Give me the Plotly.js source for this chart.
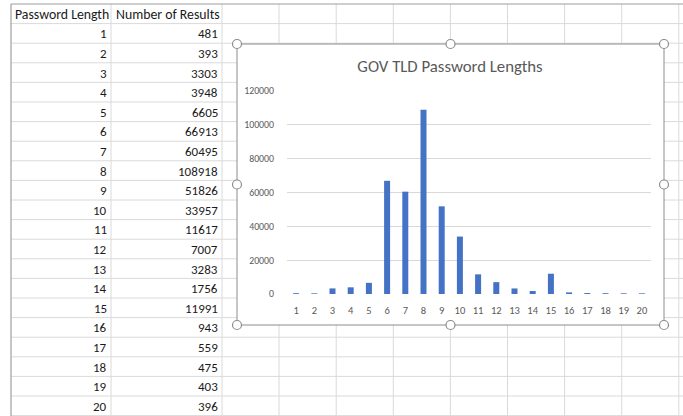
<!DOCTYPE html>
<html><head><meta charset="utf-8">
<script src="https://cdn.plot.ly/plotly-3.0.1.min.js"></script>
<style>html,body{margin:0;padding:0;background:#fff;}#chart{width:683px;height:416px;}</style>
</head><body><div id="chart"></div>
<script>
const lengths = [1,2,3,4,5,6,7,8,9,10,11,12,13,14,15,16,17,18,19,20];
const results = [481,393,3303,3948,6605,66913,60495,108918,51826,33957,11617,7007,3283,1756,11991,943,559,475,403,396];
const headerA = "Password Length";
const headerB = "Number of Results";
const chartTitle = "GOV TLD Password Lengths";
const yTicks = [0,20000,40000,60000,80000,100000,120000];

const W = 683, H = 416;
const X = p => p / W;
const Y = p => 1 - p / H;
const FONT = "Carlito, Calibri, Lato, sans-serif";

const shapes = [];
const annotations = [];
const rowTop = 4, rowH = 19.6;
const colLines = [111, 222, 279, 336.2, 393.3, 450.4, 507.5, 564.6, 621.7, 678.8];
for (let k = 1; k <= 21; k++) {
  const y = rowTop + rowH * k;
  shapes.push({type:'line', xref:'paper', yref:'paper', x0:X(11), x1:X(683), y0:Y(y), y1:Y(y), line:{color:'#dadada', width:1}, layer:'below'});
}
colLines.forEach(c => shapes.push({type:'line', xref:'paper', yref:'paper', x0:X(c), x1:X(c), y0:Y(4), y1:Y(416), line:{color:'#dadada', width:1}, layer:'below'}));
shapes.push({type:'line', xref:'paper', yref:'paper', x0:X(11), x1:X(683), y0:Y(4), y1:Y(4), line:{color:'#9e9e9e', width:1.2}, layer:'below'});
shapes.push({type:'line', xref:'paper', yref:'paper', x0:X(11), x1:X(11), y0:Y(4), y1:Y(416), line:{color:'#9e9e9e', width:1.2}, layer:'below'});
shapes.push({type:'rect', xref:'paper', yref:'paper', x0:X(237), x1:X(664), y0:Y(44), y1:Y(325), fillcolor:'#ffffff', line:{color:'#8c8c8c', width:1}, layer:'below'});
const hx = [237, 450.5, 664], hy = [44, 184.5, 325];
hx.forEach((cx, i) => hy.forEach((cy, j) => {
  if (i === 1 && j === 1) return;
  const r = 4.5;
  shapes.push({type:'circle', xref:'paper', yref:'paper', x0:X(cx - r), x1:X(cx + r), y0:Y(cy + r), y1:Y(cy - r), fillcolor:'#ffffff', line:{color:'#8c8c8c', width:1.2}, layer:'below'});
}));

annotations.push({xref:'paper', yref:'paper', x:X(12.5), y:Y(rowTop + rowH/2 + 0.5), text:headerA, showarrow:false, xanchor:'left', yanchor:'middle', font:{family:FONT, size:13.8, color:'#1a1a1a'}});
annotations.push({xref:'paper', yref:'paper', x:X(114), y:Y(rowTop + rowH/2 + 0.5), text:headerB, showarrow:false, xanchor:'left', yanchor:'middle', font:{family:FONT, size:13.8, color:'#1a1a1a'}});
lengths.forEach((L, i) => {
  const cy = rowTop + rowH * (i + 1) + rowH / 2 + 0.5;
  annotations.push({xref:'paper', yref:'paper', x:X(109), y:Y(cy), text:String(L), showarrow:false, xanchor:'right', yanchor:'middle', font:{family:FONT, size:13, color:'#1a1a1a'}});
  annotations.push({xref:'paper', yref:'paper', x:X(220), y:Y(cy), text:String(results[i]), showarrow:false, xanchor:'right', yanchor:'middle', font:{family:FONT, size:13, color:'#1a1a1a'}});
});

const trace = {
  type:'bar', x:lengths.map(String), y:results,
  marker:{color:'#4472C4'}, hoverinfo:'x+y'
};

const layout = {
  width:W, height:H, autosize:false,
  margin:{l:0, r:0, t:0, b:0, pad:0},
  paper_bgcolor:'#ffffff', plot_bgcolor:'rgba(0,0,0,0)',
  showlegend:false,
  bargap:0.67,
  title:{text:chartTitle, x:X(450), xref:'paper', xanchor:'center', y:Y(66), yref:'paper', yanchor:'middle', font:{family:FONT, size:16.8, color:'#595959'}},
  xaxis:{domain:[X(287), X(651)], type:'category', showgrid:false, zeroline:false, showline:false, ticks:'', ticklabelstandoff:8,
    tickfont:{family:FONT, size:10.5, color:'#595959'}},
  yaxis:{domain:[Y(294), Y(91)], range:[0,120000], tickvals:yTicks, ticktext:yTicks.map(String), showgrid:true, gridcolor:'#d9d9d9', gridwidth:1,
    zeroline:false, showline:false, ticks:'', ticklabelstandoff:12, tickfont:{family:FONT, size:9.8, color:'#595959'}},
  shapes:shapes, annotations:annotations
};
Plotly.newPlot('chart', [trace], layout, {staticPlot:true, displayModeBar:false});
</script></body></html>
